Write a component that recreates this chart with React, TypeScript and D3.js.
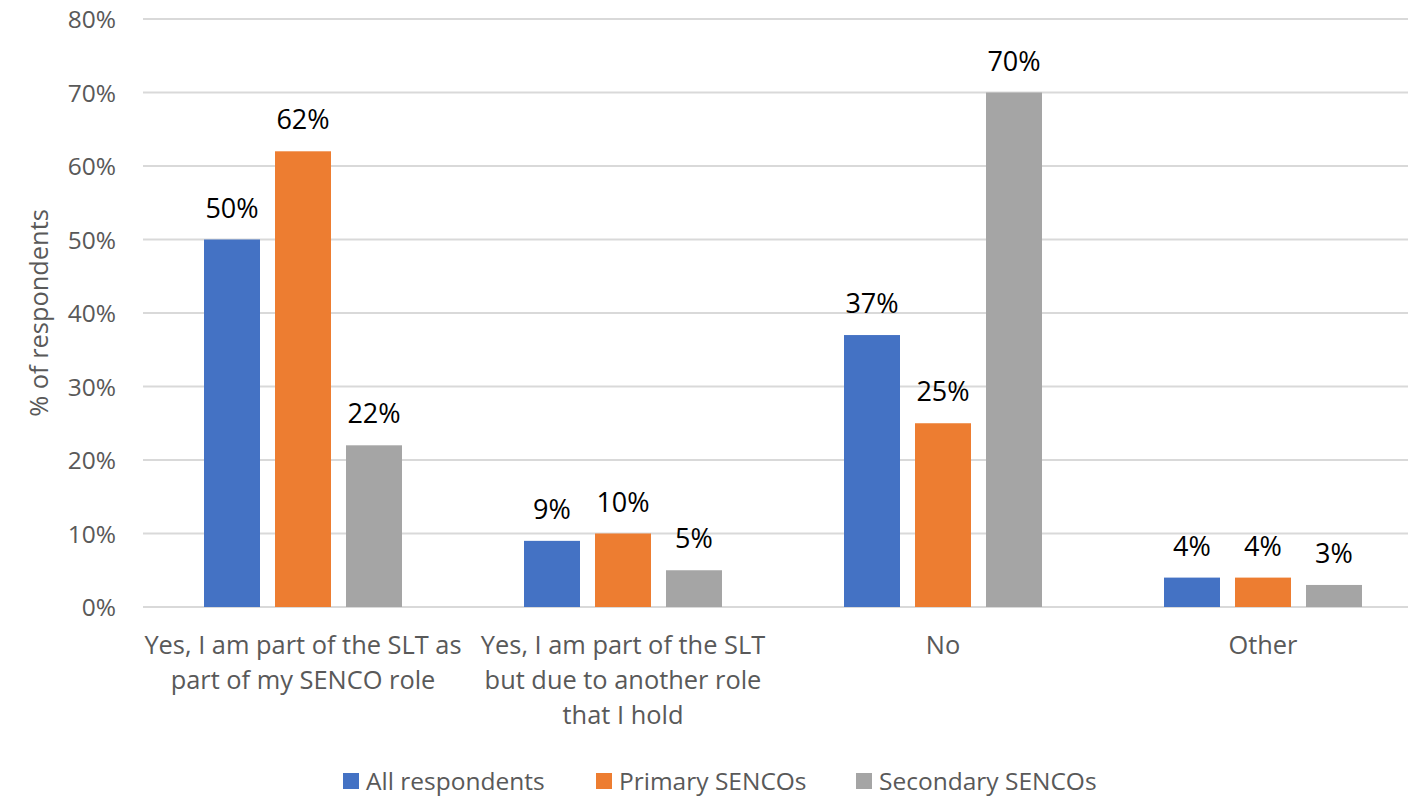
import * as d3 from 'd3'
import { useEffect, useRef } from 'react'

const categories = [
  ['Yes, I am part of the SLT as', 'part of my SENCO role'],
  ['Yes, I am part of the SLT', 'but due to another role', 'that I hold'],
  ['No'],
  ['Other'],
]
const seriesNames = ['All respondents', 'Primary SENCOs', 'Secondary SENCOs']
const seriesColors = ['#4472C4', '#ED7D31', '#A5A5A5']
const allRespondents = [0.5, 0.09, 0.37, 0.04]
const primarySencos = [0.62, 0.1, 0.25, 0.04]
const secondarySencos = [0.22, 0.05, 0.7, 0.03]
const yTicks = [0, 0.1, 0.2, 0.3, 0.4, 0.5, 0.6, 0.7, 0.8]

const FONT = "'Open Sans', sans-serif"

export default function App() {
  const svgRef = useRef<SVGSVGElement>(null)

  useEffect(() => {
    if (!svgRef.current) return
    d3.select(svgRef.current).selectAll('*').remove()

    const width = 1408
    const height = 796
    const svg = d3.select(svgRef.current).attr('width', width).attr('height', height)

    const series = [allRespondents, primarySencos, secondarySencos]
    const catKeys = categories.map((_, i) => String(i))

    const x0 = d3.scaleBand().domain(catKeys).range([143, 1423]).padding(0)
    const x1 = d3
      .scaleBand()
      .domain(seriesNames)
      .range([0, 198])
      .paddingInner(15 / 71)
      .paddingOuter(0)
    const y = d3.scaleLinear().domain([0, 0.8]).range([607, 19])

    // Gridlines
    svg
      .append('g')
      .selectAll('line')
      .data(yTicks)
      .enter()
      .append('line')
      .attr('x1', 143)
      .attr('x2', width)
      .attr('y1', d => y(d))
      .attr('y2', d => y(d))
      .attr('stroke', '#d9d9d9')
      .attr('stroke-width', 2)

    // Y tick labels
    svg
      .append('g')
      .selectAll('text')
      .data(yTicks)
      .enter()
      .append('text')
      .attr('x', 116)
      .attr('y', d => y(d) + 9)
      .attr('text-anchor', 'end')
      .style('font-family', FONT)
      .style('font-size', '24.5px')
      .style('fill', '#595959')
      .text(d => `${Math.round(d * 100)}%`)

    // Bars + labels
    series.forEach((vals, si) => {
      const g = svg.append('g')
      vals.forEach((v, ci) => {
        const bx = x0(String(ci))! + (x0.bandwidth() - 198) / 2 + x1(seriesNames[si])!
        g.append('rect')
          .attr('x', bx)
          .attr('y', y(v))
          .attr('width', x1.bandwidth())
          .attr('height', y(0) - y(v))
          .attr('fill', seriesColors[si])
        g.append('text')
          .attr('x', bx + x1.bandwidth() / 2)
          .attr('y', y(v) - 22)
          .attr('text-anchor', 'middle')
          .style('font-family', FONT)
          .style('font-size', '27px')
          .style('fill', '#000')
          .text(`${Math.round(v * 100)}%`)
      })
    })

    // Category labels
    categories.forEach((lines, ci) => {
      const cx = x0(String(ci))! + x0.bandwidth() / 2
      const t = svg
        .append('text')
        .attr('text-anchor', 'middle')
        .style('font-family', FONT)
        .style('font-size', '25.4px')
        .style('fill', '#595959')
      lines.forEach((line, li) => {
        t.append('tspan').attr('x', cx).attr('y', 654 + li * 35).text(line)
      })
    })

    // Y axis title
    svg
      .append('text')
      .attr('transform', 'translate(48,313) rotate(-90)')
      .attr('text-anchor', 'middle')
      .style('font-family', FONT)
      .style('font-size', '25.4px')
      .style('fill', '#595959')
      .text('% of respondents')

    // Legend
    const legendX = [343, 596, 856]
    seriesNames.forEach((name, i) => {
      const g = svg.append('g').attr('transform', `translate(${legendX[i]},0)`)
      g.append('rect')
        .attr('x', 0)
        .attr('y', 773)
        .attr('width', 16)
        .attr('height', 16)
        .attr('fill', seriesColors[i])
      g.append('text')
        .attr('x', 23)
        .attr('y', 790)
        .style('font-family', FONT)
        .style('font-size', '24.5px')
        .style('fill', '#595959')
        .text(name)
    })
  }, [])

  return (
    <div style={{ position: 'absolute', left: 0, top: 0 }}>
      <svg ref={svgRef}></svg>
    </div>
  )
}
